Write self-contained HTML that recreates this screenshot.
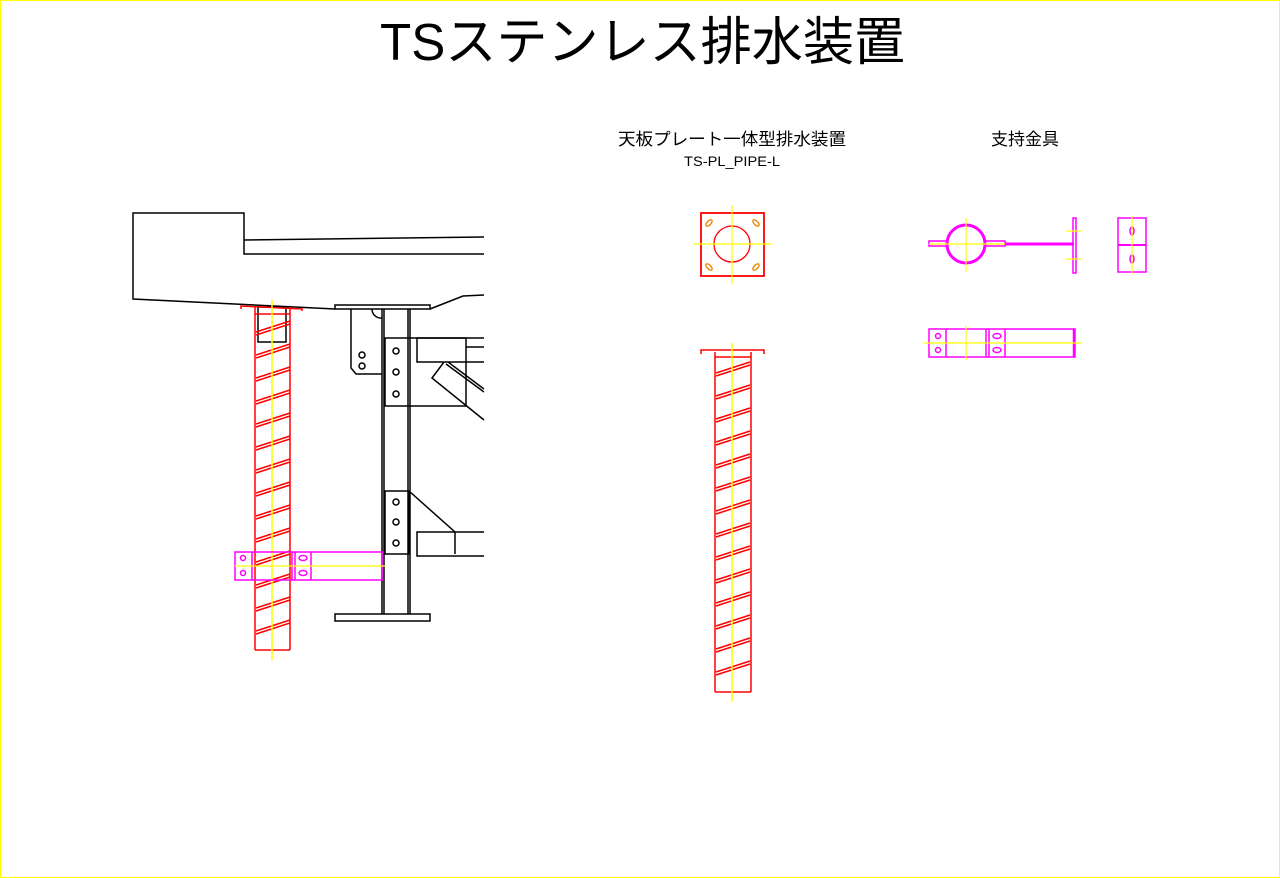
<!DOCTYPE html>
<html><head><meta charset="utf-8"><style>
html,body{margin:0;padding:0;background:#fff}
svg{display:block}
text{font-family:"Liberation Sans","Noto Sans CJK JP",sans-serif}
</style></head><body>
<svg width="1280" height="878" viewBox="0 0 1280 878" xmlns="http://www.w3.org/2000/svg">
<defs>
<g id="barL"><line x1="256" y1="0" x2="290" y2="-11" stroke="#f00" stroke-width="1.5"/><line x1="256" y1="3" x2="290" y2="-8" stroke="#f00" stroke-width="1.5"/></g>
<g id="barR"><line x1="716" y1="0" x2="750" y2="-11" stroke="#f00" stroke-width="1.5"/><line x1="716" y1="3" x2="750" y2="-8" stroke="#f00" stroke-width="1.5"/></g>
</defs>
<rect x="0.5" y="0.5" width="1279" height="877" fill="none" stroke="#ff0" stroke-width="1"/>
<text x="380" y="60" font-size="52" textLength="525" lengthAdjust="spacingAndGlyphs">TSステンレス排水装置</text>
<text x="618" y="145" font-size="17" textLength="228" lengthAdjust="spacingAndGlyphs">天板プレート一体型排水装置</text>
<text x="684" y="166" font-size="14" textLength="96" lengthAdjust="spacingAndGlyphs">TS-PL_PIPE-L</text>
<text x="991" y="145" font-size="17" textLength="68" lengthAdjust="spacingAndGlyphs">支持金具</text>

<g fill="none" stroke="#000" stroke-width="1.5">
<polyline points="484,254 244,254 244,213 133,213 133,299 335,309"/>
<line x1="244" y1="240" x2="484" y2="237"/>
<rect x="335" y="305" width="95" height="4"/>
<polyline points="430,309 463,296 484,295"/>
<line x1="382" y1="309" x2="382" y2="614"/><line x1="384" y1="309" x2="384" y2="614"/>
<line x1="408" y1="309" x2="408" y2="614"/><line x1="410" y1="309" x2="410" y2="614"/>
<rect x="335" y="614" width="95" height="7"/>
<polyline points="351,309 351,368 356,374 382,374"/>
<path d="M372,309 A9,9 0 0 0 382,318"/>
<circle cx="362" cy="355" r="3"/><circle cx="362" cy="366" r="3"/>
<rect x="385" y="338" width="81" height="68"/>
<circle cx="396" cy="351" r="3"/><circle cx="396" cy="372" r="3"/><circle cx="396" cy="394" r="3"/>
<polyline points="484,338 417,338 417,362 484,362"/>
<line x1="466" y1="347" x2="484" y2="347"/>
<polyline points="444,362 432,378 484,420"/>
<line x1="446" y1="364" x2="484" y2="392"/><line x1="448" y1="362" x2="484" y2="389"/>
<rect x="385" y="491" width="24" height="63"/>
<circle cx="396" cy="502" r="3"/><circle cx="396" cy="522" r="3"/><circle cx="396" cy="543" r="3"/>
<line x1="409" y1="491" x2="455" y2="532"/>
<polyline points="484,532 417,532 417,556 484,556"/>
<line x1="455" y1="532" x2="455" y2="554"/>
<rect x="258" y="307" width="28" height="35"/>
</g>

<g fill="none" stroke="#f00" stroke-width="1.5">
<line x1="255" y1="307" x2="255" y2="650"/><line x1="290" y1="307" x2="290" y2="650"/>
<line x1="255" y1="650" x2="290" y2="650"/>
<line x1="255" y1="314" x2="290" y2="314"/>
<polyline points="241,309 241,306 302,309 302,311"/>
</g>
<g>
<use href="#barL" y="332"/><use href="#barL" y="355"/><use href="#barL" y="378"/><use href="#barL" y="401"/><use href="#barL" y="424"/><use href="#barL" y="447"/><use href="#barL" y="470"/><use href="#barL" y="493"/><use href="#barL" y="516"/><use href="#barL" y="539"/><use href="#barL" y="562"/><use href="#barL" y="585"/><use href="#barL" y="608"/><use href="#barL" y="631"/>
</g>
<line x1="272" y1="300" x2="272" y2="660" stroke="#ff0" stroke-width="1.5"/>

<g fill="none" stroke="#f0f" stroke-width="1.5">
<rect x="235" y="552" width="147" height="28"/>
<line x1="252" y1="552" x2="252" y2="580"/><line x1="292" y1="552" x2="292" y2="580"/>
<line x1="295" y1="552" x2="295" y2="580"/><line x1="311" y1="552" x2="311" y2="580"/>
<circle cx="243" cy="558" r="2.5"/><circle cx="243" cy="573" r="2.5"/>
<ellipse cx="303" cy="558" rx="4" ry="2.5"/><ellipse cx="303" cy="573" rx="4" ry="2.5"/>
</g>
<line x1="235" y1="566" x2="386" y2="566" stroke="#ff0" stroke-width="1.2"/>

<g fill="none" stroke="#f00" stroke-width="1.8">
<rect x="701" y="213" width="63" height="63"/>
<circle cx="732" cy="244" r="18" stroke-width="1.3"/>
</g>
<g fill="none" stroke="#e80" stroke-width="1.4">
<ellipse cx="709" cy="223" rx="4" ry="2" transform="rotate(-45 709 223)"/>
<ellipse cx="756" cy="223" rx="4" ry="2" transform="rotate(45 756 223)"/>
<ellipse cx="709" cy="267" rx="4" ry="2" transform="rotate(45 709 267)"/>
<ellipse cx="756" cy="267" rx="4" ry="2" transform="rotate(-45 756 267)"/>
</g>
<line x1="732" y1="205" x2="732" y2="284" stroke="#ff0" stroke-width="1.2"/>
<line x1="693" y1="244" x2="771" y2="244" stroke="#ff0" stroke-width="1.2"/>

<g fill="none" stroke="#f00" stroke-width="1.5">
<line x1="715" y1="352" x2="715" y2="692"/><line x1="751" y1="352" x2="751" y2="692"/>
<line x1="715" y1="692" x2="751" y2="692"/>
<line x1="715" y1="357" x2="751" y2="357"/>
<polyline points="701,354 701,350 764,350 764,354"/>
</g>
<g>
<use href="#barR" y="373"/><use href="#barR" y="396"/><use href="#barR" y="419"/><use href="#barR" y="442"/><use href="#barR" y="465"/><use href="#barR" y="488"/><use href="#barR" y="511"/><use href="#barR" y="534"/><use href="#barR" y="557"/><use href="#barR" y="580"/><use href="#barR" y="603"/><use href="#barR" y="626"/><use href="#barR" y="649"/><use href="#barR" y="672"/>
</g>
<line x1="732" y1="343" x2="732" y2="702" stroke="#ff0" stroke-width="1.5"/>

<g fill="none" stroke="#f0f" stroke-width="1.5">
<circle cx="966" cy="244" r="19" stroke-width="3"/>
<rect x="929" y="241" width="18" height="5"/>
<rect x="985" y="241" width="20" height="5"/>
<line x1="1005" y1="244" x2="1074" y2="244" stroke-width="3"/>
<rect x="1073" y="218" width="3" height="55"/>
<rect x="1118" y="218" width="28" height="54"/>
<line x1="1118" y1="245" x2="1146" y2="245" stroke-width="2"/>
<ellipse cx="1132" cy="231" rx="2" ry="4"/><ellipse cx="1132" cy="259" rx="2" ry="4"/>
<rect x="929" y="329" width="146" height="28"/>
<line x1="946" y1="329" x2="946" y2="357"/><line x1="986" y1="329" x2="986" y2="357"/>
<line x1="989" y1="329" x2="989" y2="357"/><line x1="1005" y1="329" x2="1005" y2="357"/>
<line x1="1074" y1="329" x2="1074" y2="357" stroke-width="2.5"/>
<circle cx="938" cy="336" r="2.5"/><circle cx="938" cy="350" r="2.5"/>
<ellipse cx="997" cy="336" rx="4" ry="2.5"/><ellipse cx="997" cy="350" rx="4" ry="2.5"/>
</g>
<g stroke="#ff0" stroke-width="1.2">
<line x1="966" y1="218" x2="966" y2="272"/><line x1="929" y1="244" x2="1005" y2="244"/>
<line x1="1066" y1="231" x2="1082" y2="231"/><line x1="1066" y1="259" x2="1082" y2="259"/>
<line x1="1132" y1="216" x2="1132" y2="274"/>
<line x1="924" y1="343" x2="1082" y2="343"/>
<line x1="966" y1="326" x2="966" y2="360"/>
</g>
</svg>
</body></html>
